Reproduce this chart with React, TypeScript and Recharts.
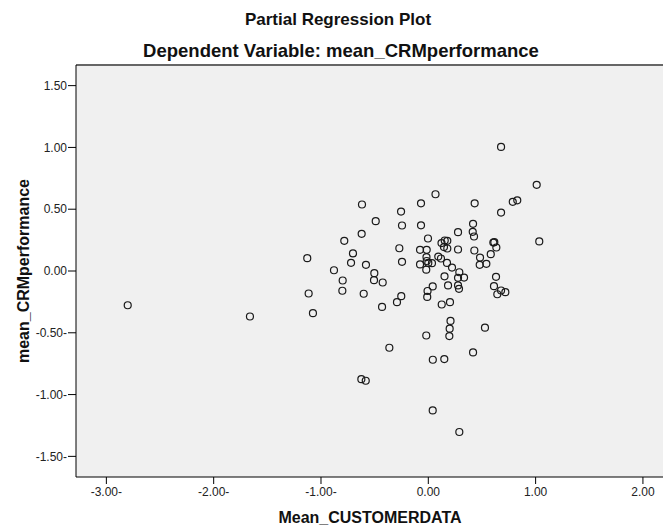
import React from "react";
import {
  ScatterChart,
  Scatter,
  XAxis,
  YAxis,
  CartesianGrid,
  ReferenceLine,
} from "recharts";

// partial residuals: Mean_CUSTOMERDATA (x) vs mean_CRMperformance (y)
const customerData = [
  -2.801, -1.662, -1.128, -1.115, -1.075, -0.879, -0.798, -0.801, -0.783, -0.72,
  -0.702, -0.621, -0.618, -0.602, -0.581, -0.503, -0.506, -0.49, -0.425, -0.431,
  -0.363, -0.624, -0.583, -0.292, -0.27, -0.254, -0.252, -0.245, -0.245, -0.077,
  -0.077, -0.068, -0.068, -0.017, -0.015, -0.015, 0.0, 0.034, -0.019, -0.019,
  -0.007, -0.01, -0.003, 0.041, 0.042, 0.041, 0.067, 0.093, 0.118, 0.123,
  0.153, 0.177, 0.146, 0.177, 0.125, 0.151, 0.149, 0.174, 0.184, 0.202,
  0.207, 0.199, 0.196, 0.221, 0.277, 0.277, 0.289, 0.277, 0.333, 0.277,
  0.286, 0.289, 0.414, 0.426, 0.417, 0.432, 0.429, 0.417, 0.482, 0.479,
  0.541, 0.528, 0.582, 0.606, 0.615, 0.634, 0.631, 0.612, 0.643, 0.678,
  0.718, 0.678, 0.678, 0.787, 0.829, 1.01, 1.034,
];

const crmPerformance = [
  -0.277, -0.368, 0.104, -0.182, -0.341, 0.006, -0.077, -0.16, 0.244, 0.066,
  0.142, 0.301, 0.538, -0.184, 0.05, -0.018, -0.074, 0.403, -0.093, -0.291,
  -0.621, -0.875, -0.888, -0.252, 0.184, 0.481, -0.204, 0.368, 0.074, 0.171,
  0.053, 0.548, 0.37, 0.113, 0.171, 0.081, 0.065, 0.063, 0.011, -0.522,
  -0.162, -0.21, 0.263, -0.125, -0.718, -1.128, 0.621, 0.117, 0.101, 0.226,
  0.247, 0.244, 0.194, 0.182, -0.271, -0.043, -0.713, 0.065, -0.117, -0.252,
  -0.404, -0.467, -0.527, 0.028, 0.314, 0.174, -0.01, -0.055, -0.053, -0.117,
  -0.144, -1.303, 0.317, 0.279, 0.382, 0.548, 0.166, -0.659, 0.109, 0.05,
  0.058, -0.459, 0.136, 0.23, 0.233, 0.19, -0.047, -0.123, -0.188, -0.158,
  -0.171, 1.004, 0.473, 0.56, 0.572, 0.697, 0.239,
];

const xTicks = [-3, -2, -1, 0, 1, 2];
const yTicks = [-1.5, -1, -0.5, 0, 0.5, 1, 1.5];

const points = customerData.map((x, i) => ({ x, y: crmPerformance[i] }));

const X_DOMAIN: [number, number] = [-3.283, 2.187];
const Y_DOMAIN: [number, number] = [-1.667, 1.667];

// SPSS prints negatives with a trailing dash
const fmt = (v: number) => (v < 0 ? `${v.toFixed(2)}-` : v.toFixed(2));

const FONT = "'Liberation Sans', Arial, sans-serif";
const tickStyle = { fontSize: 12, fill: "#222", fontFamily: FONT };

const OpenCircle = (props: any) => (
  <circle
    cx={props.cx}
    cy={props.cy}
    r={3.5}
    fill="none"
    stroke="#1a1a1a"
    strokeWidth={1.2}
  />
);

export default function App() {
  return (
    <div
      style={{
        position: "absolute",
        left: 0,
        top: 0,
        width: 663,
        height: 531,
        overflow: "hidden",
        background: "#fff",
      }}
    >
      <ScatterChart
        width={663}
        height={531}
        margin={{ top: 65, right: 0, bottom: 0, left: 0 }}
      >
        <CartesianGrid
          fill="#f0f0f0"
          stroke="none"
          horizontal={false}
          vertical={false}
        />
        <XAxis
          type="number"
          dataKey="x"
          domain={X_DOMAIN}
          ticks={xTicks}
          allowDataOverflow
          height={54}
          tickSize={7}
          tickMargin={3}
          tickFormatter={fmt}
          tick={tickStyle}
          axisLine={{ stroke: "#000", strokeWidth: 1 }}
          tickLine={{ stroke: "#000", strokeWidth: 1 }}
        />
        <YAxis
          type="number"
          dataKey="y"
          domain={Y_DOMAIN}
          ticks={yTicks}
          allowDataOverflow
          width={76}
          tickSize={8}
          tickMargin={1}
          tickFormatter={fmt}
          tick={tickStyle}
          axisLine={{ stroke: "#000", strokeWidth: 1 }}
          tickLine={{ stroke: "#000", strokeWidth: 1 }}
        />
        <ReferenceLine y={Y_DOMAIN[1]} stroke="#666" strokeWidth={2} />
        <Scatter data={points} shape={OpenCircle} isAnimationActive={false} />
      </ScatterChart>

      <svg
        width={663}
        height={531}
        style={{ position: "absolute", left: 0, top: 0, pointerEvents: "none" }}
      >
        <g fontFamily={FONT} fontWeight="bold" fill="#111" textAnchor="middle">
          <text x={338} y={25} fontSize={17}>
            Partial Regression Plot
          </text>
          <text x={341} y={57} fontSize={18.5}>
            Dependent Variable: mean_CRMperformance
          </text>
          <text x={370} y={523} fontSize={16}>
            Mean_CUSTOMERDATA
          </text>
          <text x={29} y={271} fontSize={16} transform="rotate(-90 29 271)">
            mean_CRMperformance
          </text>
        </g>
      </svg>
    </div>
  );
}
